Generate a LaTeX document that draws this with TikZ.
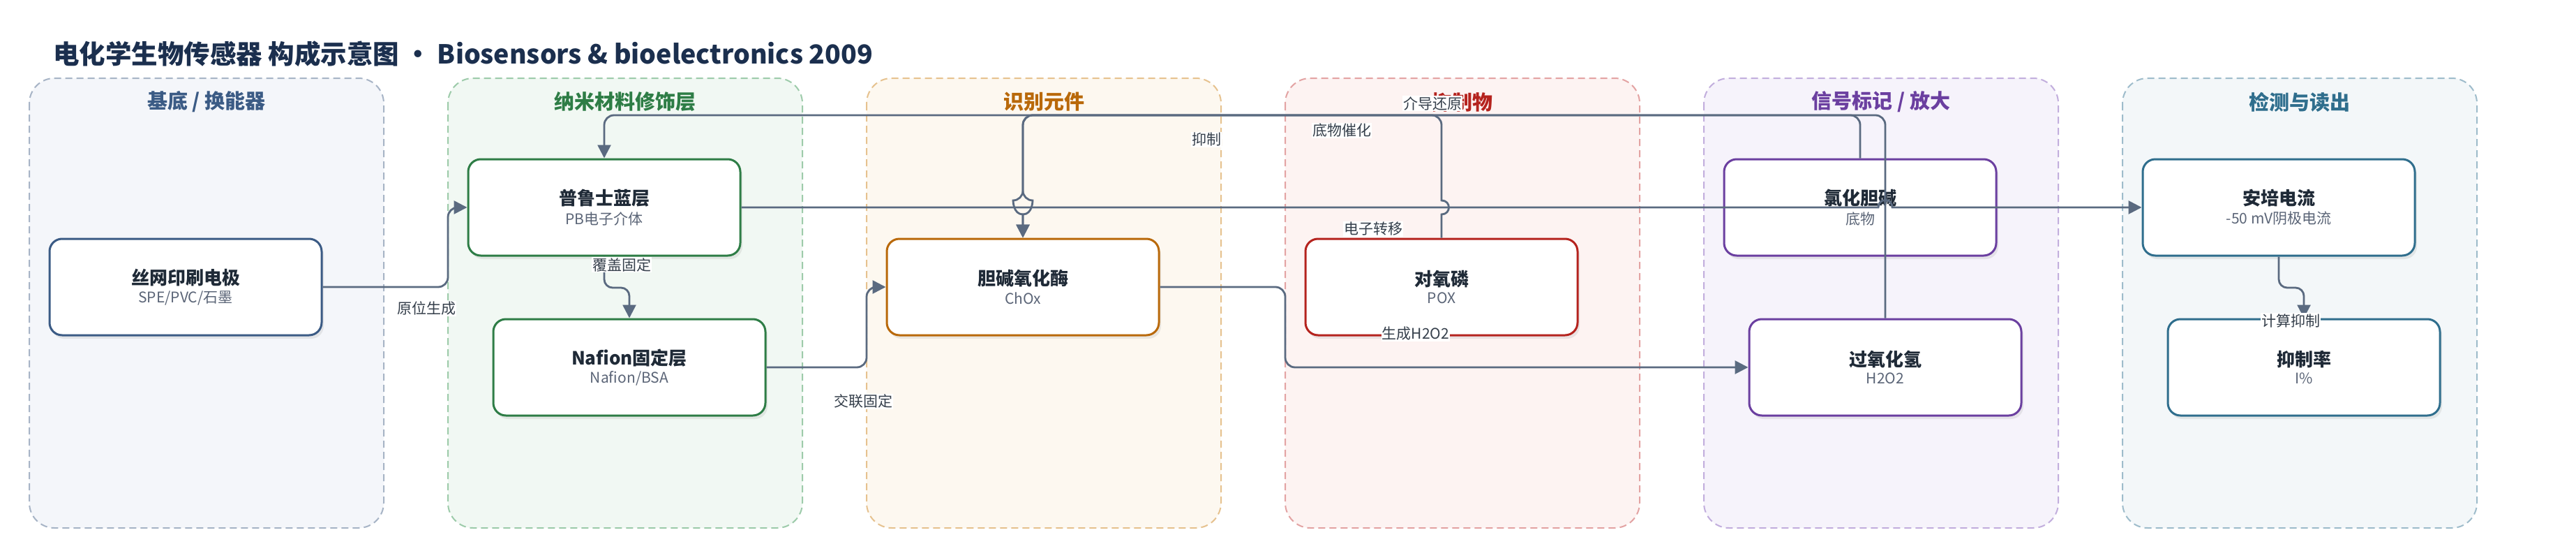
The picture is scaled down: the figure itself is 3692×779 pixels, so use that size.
\documentclass[tikz,border=0pt]{standalone}
\usepackage{fontspec}
\setmainfont{Noto Sans CJK SC}
\usetikzlibrary{arrows.meta,shadows,positioning}

\definecolor{inkdark}{HTML}{1F2A37}
\definecolor{inkgray}{HTML}{5B6577}
\definecolor{wire}{HTML}{5A6A80}
\definecolor{titleink}{HTML}{1B2F4E}
\definecolor{c1}{HTML}{3B5B85}
\definecolor{c2}{HTML}{2E7D46}
\definecolor{c3}{HTML}{B9690A}
\definecolor{c4}{HTML}{B5231E}
\definecolor{c5}{HTML}{6B3FA0}
\definecolor{c6}{HTML}{2F6E8D}
\definecolor{f1}{HTML}{F4F6FA}
\definecolor{f2}{HTML}{F1F8F3}
\definecolor{f3}{HTML}{FDF8F0}
\definecolor{f4}{HTML}{FDF3F2}
\definecolor{f5}{HTML}{F6F3FB}
\definecolor{f6}{HTML}{F3F7F9}
\definecolor{d1}{HTML}{A7B4C6}
\definecolor{d2}{HTML}{9DCBAA}
\definecolor{d3}{HTML}{E6C28F}
\definecolor{d4}{HTML}{E3A3A3}
\definecolor{d5}{HTML}{C2AEDD}
\definecolor{d6}{HTML}{9EBCCB}

\newcommand{\boxlabel}[2]{{\fontsize{26}{30}\selectfont\bfseries\color{inkdark}#1}\\[6pt]{\fontsize{21}{25}\selectfont\color{inkgray}#2}}

\begin{document}
\begin{tikzpicture}[x=1pt, y=-1pt,
    grp/.style={line width=2pt, dash pattern=on 10pt off 6pt, rounded corners=36pt},
    grptitle/.style={font=\fontsize{29}{32}\selectfont\bfseries, inner sep=0pt},
    box/.style={line width=3pt, rounded corners=18pt, fill=white, minimum width=390pt,
      minimum height=138pt, align=center, inner sep=0pt,
      drop shadow={shadow xshift=3pt, shadow yshift=-5pt, opacity=0.15}},
    flow/.style={draw=wire, line width=2.8pt, -{Triangle[length=19pt,width=19pt]}},
    lbl/.style={fill=white, text=inkdark!90, font=\fontsize{21}{24}\selectfont, inner sep=1pt}]
  \fill[white] (0,0) rectangle (3692,779);
  \useasboundingbox (0,0) rectangle (3692,779);

  \node[anchor=west, inner sep=0pt, text=titleink, font=\fontsize{37.5}{42}\selectfont\bfseries] (title)
    at (76,77) {电化学生物传感器 构成示意图 · Biosensors \& bioelectronics 2009};

  % lanes
  \draw[grp, fill=f1, draw=d1] (42,112) rectangle (550,756);
  \draw[grp, fill=f2, draw=d2] (642,112) rectangle (1150,756);
  \draw[grp, fill=f3, draw=d3] (1242,112) rectangle (1750,756);
  \draw[grp, fill=f4, draw=d4] (1842,112) rectangle (2350,756);
  \draw[grp, fill=f5, draw=d5] (2442,112) rectangle (2950,756);
  \draw[grp, fill=f6, draw=d6] (3042,112) rectangle (3550,756);
  \node[grptitle, text=c1] (t1) at (296,146) {基底 / 换能器};
  \node[grptitle, text=c2] (t2) at (896,146) {纳米材料修饰层};
  \node[grptitle, text=c3] (t3) at (1496,146) {识别元件};
  \node[grptitle, text=c4] (t4) at (2096,146) {抑制物};
  \node[grptitle, text=c5] (t5) at (2696,146) {信号标记 / 放大};
  \node[grptitle, text=c6] (t6) at (3296,146) {检测与读出};

  \node[box, draw=c1] (spe) at (266,411) {\boxlabel{丝网印刷电极}{SPE/PVC/石墨}};
  \node[box, draw=c2] (pb) at (866,297) {\boxlabel{普鲁士蓝层}{PB电子介体}};
  \node[box, draw=c2] (nafion) at (902,526) {\boxlabel{Nafion固定层}{Nafion/BSA}};
  \node[box, draw=c3] (chox) at (1466,411) {\boxlabel{胆碱氧化酶}{ChOx}};
  \node[box, draw=c4] (pox) at (2066,411) {\boxlabel{对氧磷}{POX}};
  \node[box, draw=c5] (ccl) at (2666,297) {\boxlabel{氯化胆碱}{底物}};
  \node[box, draw=c5] (h2o2) at (2702,526) {\boxlabel{过氧化氢}{H2O2}};
  \node[box, draw=c6] (amp) at (3266,297) {\boxlabel{安培电流}{-50 mV阴极电流}};
  \node[box, draw=c6] (rate) at (3302,526) {\boxlabel{抑制率}{I\%}};

  \draw[flow, rounded corners=14pt] (spe.east) -- (642,411) -- (642,297) -- (pb.west);
  \draw[flow, rounded corners=12pt] (pb.south) -- (866,412) -- (902,412) -- (nafion.north);
  \draw[flow, rounded corners=14pt] (nafion.east) -- (1242,526) -- (1242,411) -- (chox.west);
  \draw[flow] (ccl.north) [rounded corners=14pt] -- (2666,165) -- (1466,165) -- (1466,287)
    [sharp corners] .. controls (1452,287) and (1452,307) .. (1466,307) -- (chox.north);
  \draw[flow] (pox.north) -- (2066,307) .. controls (2080,307) and (2080,287) .. (2066,287)
    [rounded corners=14pt] -- (2066,165) -- (1466,165) -- (1466,287)
    [sharp corners] .. controls (1480,287) and (1480,307) .. (1466,307) -- (chox.north);
  \draw[flow, rounded corners=14pt] (h2o2.north) -- (2702,165) -- (866,165) -- (pb.north);
  \draw[flow] (pb.east) -- (2692,297) .. controls (2692,283) and (2712,283) .. (2712,297) -- (amp.west);
  \draw[flow, rounded corners=14pt] (chox.east) -- (1842,411) -- (1842,526) -- (h2o2.west);
  \draw[flow, rounded corners=12pt] (amp.south) -- (3266,412) -- (3302,412) -- (rate.north);

  \node[lbl] (l1) at (611,442) {原位生成};
  \node[lbl] (l2) at (891,379) {覆盖固定};
  \node[lbl] (l3) at (1237,575) {交联固定};
  \node[lbl] (l4) at (1729,200) {抑制};
  \node[lbl] (l5) at (1923,187) {底物催化};
  \node[lbl] (l6) at (2053,148) {介导还原};
  \node[lbl] (l7) at (1968,328) {电子转移};
  \node[lbl] (l8) at (2029,478) {生成H2O2};
  \node[lbl] (l9) at (3283,459) {计算抑制};
\end{tikzpicture}
\end{document}
